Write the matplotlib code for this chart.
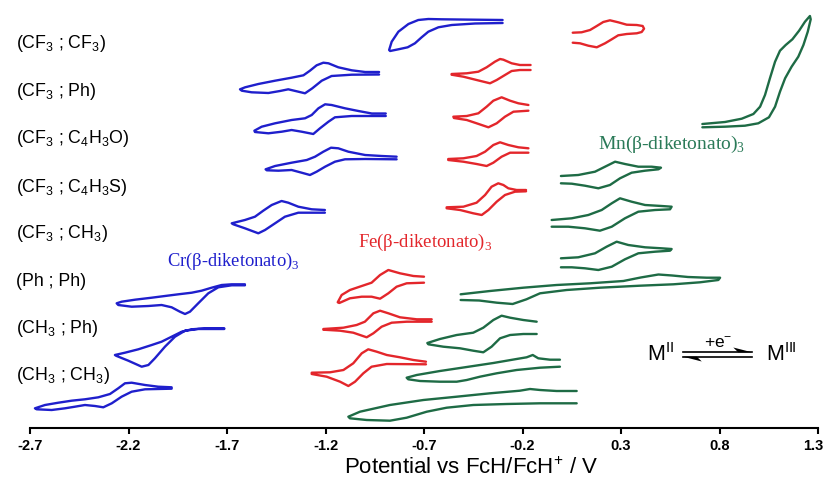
import matplotlib
matplotlib.use("Agg")
import matplotlib.pyplot as plt
from matplotlib.transforms import ScaledTranslation

# potential (V vs FcH/FcH+) and stacked current (a.u.)
# Cr(beta-diketonato)3 - blue
cr_cf3_cf3_E = [-0.301, -0.526, -0.610, -0.678, -0.729, -0.779, -0.830, -0.864, -0.877, -0.872, -0.830, -0.783, -0.746, -0.712, -0.678, -0.627, -0.559, -0.441, -0.301]
cr_cf3_cf3_I = [408, 408.5, 408.7, 409, 408, 404, 396.3, 386.3, 378, 377, 378.7, 380.7, 384.7, 390.7, 396.3, 400.7, 403, 404.5, 405]
cr_cf3_ph_E = [-0.928, -0.999, -1.067, -1.135, -1.185, -1.211, -1.245, -1.279, -1.312, -1.372, -1.456, -1.541, -1.608, -1.634, -1.625, -1.575, -1.490, -1.431, -1.389, -1.346, -1.304, -1.267, -1.219, -1.169, -1.067, -0.928]
cr_cf3_ph_I = [356, 356, 357.7, 360.7, 364.7, 365.3, 362.7, 357.3, 352.7, 350.3, 347.3, 344, 340.7, 338.7, 337.3, 335.7, 335, 337, 338.7, 336.7, 334.7, 339.7, 347.3, 352, 353.3, 353.5]
cr_cf3_fur_E = [-0.894, -0.965, -1.033, -1.101, -1.169, -1.202, -1.236, -1.270, -1.304, -1.372, -1.456, -1.524, -1.561, -1.558, -1.490, -1.422, -1.372, -1.321, -1.262, -1.228, -1.185, -1.152, -1.067, -0.894]
cr_cf3_fur_I = [314.5, 314.5, 317, 319.7, 323, 323.7, 319.7, 313, 309.7, 308, 304.7, 301.3, 297.3, 296, 294.7, 296.3, 298, 296.3, 294, 299.7, 306.3, 310.7, 312, 312]
cr_cf3_thi_E = [-0.839, -0.915, -0.999, -1.084, -1.135, -1.172, -1.211, -1.253, -1.295, -1.372, -1.456, -1.504, -1.498, -1.439, -1.372, -1.321, -1.279, -1.245, -1.202, -1.152, -1.101, -0.999, -0.839]
cr_cf3_thi_I = [271.3, 272, 273, 276.3, 279.7, 280.3, 276.3, 271.3, 268, 265.3, 262, 258.7, 257.7, 257.3, 258, 255.3, 253, 256.3, 261.3, 266.3, 268.7, 269, 268.7]
cr_cf3_ch3_E = [-1.203, -1.270, -1.338, -1.389, -1.423, -1.473, -1.516, -1.558, -1.609, -1.676, -1.668, -1.609, -1.541, -1.507, -1.456, -1.406, -1.338, -1.203]
cr_cf3_ch3_I = [218, 218.7, 221.3, 225.3, 227, 223, 217.3, 211.3, 208, 204.7, 203.7, 199.7, 194.7, 198, 204.7, 211.3, 215.3, 215.3]
cr_ph_ph_E = [-1.609, -1.676, -1.727, -1.778, -1.829, -1.879, -1.947, -2.015, -2.082, -2.167, -2.235, -2.260, -2.252, -2.184, -2.099, -2.032, -1.981, -1.939, -1.913, -1.888, -1.846, -1.795, -1.744, -1.676, -1.609]
cr_ph_ph_I = [143.7, 143.7, 143, 140.3, 137.3, 135.3, 133.7, 132, 130.3, 128.3, 126.3, 124.7, 123, 121.3, 122, 123, 120.7, 116.3, 114, 116.3, 124.7, 134.7, 140.7, 142.7, 142.7]
cr_ch3_ph_E = [-1.714, -1.812, -1.879, -1.930, -1.981, -2.032, -2.082, -2.150, -2.218, -2.269, -2.260, -2.201, -2.133, -2.099, -2.066, -2.015, -1.964, -1.913, -1.846, -1.714]
cr_ch3_ph_I = [99.7, 99.7, 98.7, 96.3, 91.3, 86.3, 83, 78.7, 75.3, 73, 72, 67.3, 61.3, 63, 69.7, 81.3, 91.3, 97.3, 99, 99]
cr_ch3_ch3_E = [-1.981, -2.049, -2.116, -2.184, -2.218, -2.252, -2.294, -2.353, -2.421, -2.489, -2.556, -2.624, -2.675, -2.666, -2.590, -2.522, -2.472, -2.421, -2.370, -2.328, -2.285, -2.235, -2.184, -2.116, -1.981]
cr_ch3_ch3_I = [40.7, 41.3, 43, 45.3, 44.7, 39.7, 34, 30.7, 28.7, 27.3, 25.3, 23, 19.7, 18.7, 18, 19.7, 21.3, 23, 22, 20.7, 24.7, 31.3, 36.3, 38.7, 39.3]

# Fe(beta-diketonato)3 - red
fe_cf3_cf3_E = [0.055, 0.100, 0.143, 0.177, 0.210, 0.244, 0.286, 0.329, 0.380, 0.410, 0.417, 0.405, 0.380, 0.329, 0.286, 0.253, 0.219, 0.177, 0.134, 0.092, 0.055]
fe_cf3_cf3_I = [395.3, 395.7, 398, 402, 406, 407.7, 405.7, 403.3, 403, 402, 399.3, 396, 394.7, 394, 392.7, 388.7, 384.7, 380.7, 382.3, 384.7, 385.3]
fe_cf3_ph_E = [-0.159, -0.213, -0.255, -0.297, -0.314, -0.340, -0.382, -0.424, -0.483, -0.560, -0.560, -0.500, -0.433, -0.365, -0.331, -0.289, -0.255, -0.213, -0.159]
fe_cf3_ph_I = [363, 363, 364.7, 368.3, 369, 366.3, 360.7, 356.3, 354.7, 354, 353.3, 351.3, 348, 344.7, 348, 353, 357, 358, 358]
fe_cf3_fur_E = [-0.170, -0.221, -0.263, -0.306, -0.348, -0.382, -0.424, -0.483, -0.551, -0.548, -0.483, -0.433, -0.373, -0.331, -0.289, -0.246, -0.170]
fe_cf3_fur_I = [323, 324.7, 327.3, 330.7, 327.3, 321.3, 314.7, 312, 311.3, 310, 308, 304.7, 300.7, 304.7, 311.3, 316.3, 317.3]
fe_cf3_thi_E = [-0.170, -0.221, -0.272, -0.314, -0.348, -0.390, -0.433, -0.500, -0.577, -0.577, -0.500, -0.433, -0.382, -0.348, -0.306, -0.263, -0.170]
fe_cf3_thi_I = [279.7, 280.7, 283, 285.7, 283, 276.3, 272, 269.7, 269, 268, 266.3, 264, 262, 265.3, 271.3, 275.3, 275.3]
fe_cf3_ch3_E = [-0.182, -0.230, -0.272, -0.297, -0.323, -0.357, -0.390, -0.433, -0.500, -0.585, -0.585, -0.517, -0.450, -0.407, -0.373, -0.331, -0.289, -0.238, -0.182]
fe_cf3_ch3_I = [238, 238, 239.7, 243, 244.7, 241.3, 233, 225.3, 221.3, 220.7, 219.7, 218, 214.7, 213, 218, 226.3, 233, 236.3, 236.7]
fe_ph_ph_E = [-0.700, -0.754, -0.822, -0.881, -0.923, -0.966, -1.016, -1.076, -1.118, -1.138, -1.130, -1.076, -1.016, -0.966, -0.923, -0.881, -0.839, -0.788, -0.700]
fe_ph_ph_I = [151.3, 152, 154.7, 158, 153, 145.3, 142, 138, 133, 125.7, 125, 129.7, 131.3, 131.3, 129.3, 134.7, 141.3, 144.7, 145.3]
fe_ch3_ph_E = [-0.661, -0.737, -0.822, -0.881, -0.923, -0.957, -1.000, -1.042, -1.109, -1.211, -1.211, -1.126, -1.059, -0.991, -0.957, -0.915, -0.864, -0.788, -0.661]
fe_ch3_ph_I = [108.7, 108.7, 110.7, 114.7, 117.3, 114.7, 106.3, 103, 100.3, 99, 98.3, 97.3, 95.3, 90.7, 94.7, 101.3, 105.3, 106.3, 106.3]
fe_ch3_ch3_E = [-0.690, -0.754, -0.822, -0.889, -0.940, -0.983, -1.016, -1.059, -1.109, -1.177, -1.270, -1.270, -1.194, -1.126, -1.084, -1.050, -1.008, -0.966, -0.889, -0.690]
fe_ch3_ch3_I = [66.3, 68, 70.7, 73, 76.3, 78.7, 74.7, 64.7, 58, 55.7, 55.3, 54, 51.3, 46.3, 42, 46.3, 54.7, 61.3, 64, 63.7]

# Mn(beta-diketonato)3 - green
mn_1_E = [0.713, 0.828, 0.913, 0.972, 1.006, 1.031, 1.056, 1.082, 1.107, 1.136, 1.170, 1.204, 1.234, 1.259, 1.263, 1.248, 1.226, 1.200, 1.166, 1.133, 1.107, 1.082, 1.051, 0.997, 0.929, 0.828, 0.713]
mn_1_I = [304, 306, 309.3, 314, 321.3, 333, 349.7, 366.3, 377.3, 383, 388.7, 397.3, 406.3, 412, 408.7, 396.3, 383, 371.3, 361.3, 349.7, 336.3, 321.3, 310.7, 304.7, 302.3, 301.3, 300.7]
mn_2_E = [-0.005, 0.083, 0.168, 0.219, 0.270, 0.320, 0.388, 0.456, 0.503, 0.490, 0.422, 0.354, 0.295, 0.244, 0.185, 0.117, 0.050, -0.005]
mn_2_I = [252, 253, 256.3, 261.3, 266.3, 264, 261.3, 261.3, 260.3, 258.7, 257.3, 255.3, 249.7, 243, 239.7, 242.3, 244.3, 244.7]
mn_3_E = [-0.052, 0.050, 0.134, 0.202, 0.253, 0.295, 0.354, 0.422, 0.506, 0.557, 0.549, 0.473, 0.388, 0.320, 0.253, 0.193, 0.117, 0.033, -0.052]
mn_3_I = [208, 209.7, 213, 218, 224.7, 229.7, 226.3, 223, 222, 221.3, 218.7, 218, 216.3, 209.7, 201.3, 197.3, 199.7, 201.3, 201.3]
mn_4_E = [-0.005, 0.083, 0.168, 0.227, 0.278, 0.337, 0.422, 0.506, 0.557, 0.549, 0.473, 0.388, 0.320, 0.253, 0.185, 0.117, 0.050, -0.005]
mn_4_I = [169.7, 170.7, 174.7, 181.3, 186.3, 183, 180.7, 179.7, 179, 177.3, 176.3, 174.7, 168.7, 161.3, 158, 159.7, 160.7, 160.7]
mn_5_E = [-0.514, -0.365, -0.196, -0.027, 0.143, 0.312, 0.400, 0.490, 0.560, 0.640, 0.735, 0.803, 0.794, 0.701, 0.566, 0.396, 0.193, 0.024, -0.111, -0.180, -0.250, -0.330, -0.420, -0.514]
mn_5_I = [133.7, 137, 140.3, 143, 144.7, 147, 150.5, 153.5, 152.5, 151, 150.3, 150.3, 148, 145.7, 143.7, 142.3, 140.3, 138, 134.7, 128.7, 124, 125.3, 127.5, 128]
mn_6_E = [-0.128, -0.196, -0.263, -0.306, -0.348, -0.399, -0.450, -0.534, -0.619, -0.683, -0.678, -0.602, -0.517, -0.450, -0.399, -0.357, -0.314, -0.263, -0.196, -0.128]
mn_6_I = [106.3, 108, 110.3, 112.3, 108, 100.3, 95.3, 93, 89, 85, 83.7, 81.3, 79.7, 77.3, 75.7, 81.3, 89.7, 93, 94, 94]
mn_7_E = [-0.010, -0.060, -0.120, -0.148, -0.179, -0.230, -0.348, -0.483, -0.619, -0.737, -0.788, -0.780, -0.720, -0.619, -0.534, -0.483, -0.416, -0.331, -0.230, -0.111, -0.010]
mn_7_I = [68.3, 68.3, 69.7, 73, 70.7, 69, 65, 61, 57, 53, 50.3, 48.7, 47, 46.3, 46.3, 48, 51.3, 54.7, 58, 60.3, 61.3]
mn_8_E = [0.075, -0.027, -0.111, -0.162, -0.213, -0.365, -0.534, -0.703, -0.873, -1.025, -1.084, -1.076, -0.991, -0.873, -0.788, -0.686, -0.585, -0.450, -0.280, -0.111, 0.075]
mn_8_I = [37, 37, 38, 39, 37.3, 34.7, 31.3, 28, 23, 16.3, 11.3, 9.7, 8, 7.3, 10.3, 16.3, 20.3, 23, 24, 24.7, 24.7]

row_labels = ['(CF$_\\mathregular{3}$ ; CF$_\\mathregular{3}$)', '(CF$_\\mathregular{3}$ ; Ph)',
              '(CF$_\\mathregular{3}$ ; C$_\\mathregular{4}$H$_\\mathregular{3}$O)',
              '(CF$_\\mathregular{3}$ ; C$_\\mathregular{4}$H$_\\mathregular{3}$S)',
              '(CF$_\\mathregular{3}$ ; CH$_\\mathregular{3}$)', '(Ph ; Ph)',
              '(CH$_\\mathregular{3}$ ; Ph)', '(CH$_\\mathregular{3}$ ; CH$_\\mathregular{3}$)']
row_label_I = [385, 337, 290, 241, 195, 147, 100, 53]
x_ticks = [-2.7, -2.2, -1.7, -1.2, -0.7, -0.2, 0.3, 0.8, 1.3]

blue = '#1f1fcc'
red = '#e3262b'
green = '#1e6b45'

cr_curves = [(cr_cf3_cf3_E, cr_cf3_cf3_I), (cr_cf3_ph_E, cr_cf3_ph_I), (cr_cf3_fur_E, cr_cf3_fur_I),
             (cr_cf3_thi_E, cr_cf3_thi_I), (cr_cf3_ch3_E, cr_cf3_ch3_I), (cr_ph_ph_E, cr_ph_ph_I),
             (cr_ch3_ph_E, cr_ch3_ph_I), (cr_ch3_ch3_E, cr_ch3_ch3_I)]
fe_curves = [(fe_cf3_cf3_E, fe_cf3_cf3_I), (fe_cf3_ph_E, fe_cf3_ph_I), (fe_cf3_fur_E, fe_cf3_fur_I),
             (fe_cf3_thi_E, fe_cf3_thi_I), (fe_cf3_ch3_E, fe_cf3_ch3_I), (fe_ph_ph_E, fe_ph_ph_I),
             (fe_ch3_ph_E, fe_ch3_ph_I), (fe_ch3_ch3_E, fe_ch3_ch3_I)]
mn_curves = [(mn_1_E, mn_1_I), (mn_2_E, mn_2_I), (mn_3_E, mn_3_I), (mn_4_E, mn_4_I),
             (mn_5_E, mn_5_I), (mn_6_E, mn_6_I), (mn_7_E, mn_7_I), (mn_8_E, mn_8_I)]

fig = plt.figure(figsize=(8.26, 4.86), dpi=100)
ax = fig.add_axes([30 / 826, 58 / 486, 788 / 826, 428 / 486])

for curves, col in [(cr_curves, blue), (fe_curves, red), (mn_curves, green)]:
    for E, I in curves:
        ax.plot(E, I, color=col, lw=1.7, solid_joinstyle='round', solid_capstyle='round')

ax.set_xlim(-2.7, 1.3)
ax.set_ylim(0, 428)
for s in ['top', 'left', 'right']:
    ax.spines[s].set_visible(False)
ax.spines['bottom'].set_linewidth(1.5)
ax.set_yticks([])
ax.set_xticks(x_ticks)
ax.set_xticklabels([f'{t:.1f}' for t in x_ticks], fontfamily='Liberation Sans',
                   fontweight='bold', fontsize=10.5)
ax.tick_params(axis='x', direction='out', length=4, width=1.5, pad=4)
# last label sits right at the figure edge in the original; nudge it inwards
last = ax.get_xticklabels()[-1]
last.set_transform(last.get_transform() + ScaledTranslation(-5 / 100, 0, fig.dpi_scale_trans))

ax.set_xlabel('Potential vs FcH/FcH$^\\mathregular{+}$ / V', fontfamily='Liberation Sans',
              fontsize=16, va='center')
ax.xaxis.set_label_coords(0.56, -40 / 428)

for lab, yy in zip(row_labels, row_label_I):
    ax.text(-2.771, yy, lab, fontfamily='Liberation Sans', fontsize=12.8, ha='left', va='center')

ax.text(-2.005, 167, 'Cr(\u03b2-diketonato)$_\\mathregular{3}$', color=blue,
        fontfamily='Liberation Serif', fontsize=13.3, ha='left', va='center')
ax.text(-1.035, 186, 'Fe(\u03b2-diketonato)$_\\mathregular{3}$', color=red,
        fontfamily='Liberation Serif', fontsize=13.5, ha='left', va='center')
ax.text(0.183, 284, 'Mn(\u03b2-diketonato)$_\\mathregular{3}$', color='#2a7a58',
        fontfamily='Liberation Serif', fontsize=14, ha='left', va='center')

# equilibrium M(II) <-> M(III)
ax.text(0.432, 73, 'M$^\\mathregular{II}$', fontfamily='Liberation Sans', fontsize=15.5,
        ha='left', va='center')
ax.text(1.036, 73, 'M$^\\mathregular{III}$', fontfamily='Liberation Sans', fontsize=15.5,
        ha='left', va='center')
ax.text(0.792, 85, '+e$^\\mathregular{-}$', fontfamily='Liberation Sans', fontsize=12.5,
        ha='center', va='center')
ax.plot([0.615, 0.965], [75.7, 75.7], color='black', lw=1.2)
ax.plot([0.615, 0.965], [71.3, 71.3], color='black', lw=1.2)
ax.fill([0.965, 0.870, 0.895], [75.7, 80.5, 75.7], color='black', lw=0)
ax.fill([0.615, 0.710, 0.685], [71.3, 66.5, 71.3], color='black', lw=0)

fig.savefig('out.png', dpi=100)
